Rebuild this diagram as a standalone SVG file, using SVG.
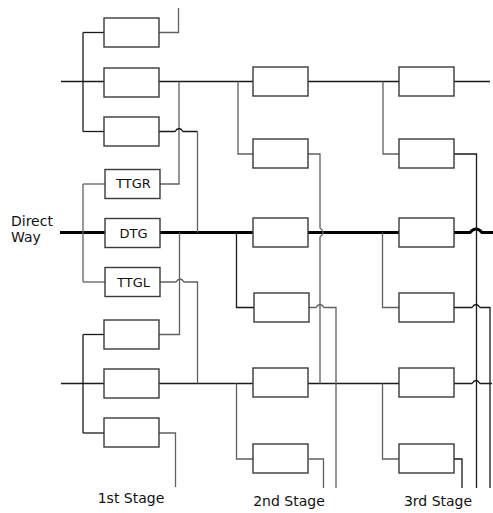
<svg xmlns="http://www.w3.org/2000/svg" width="493" height="513" viewBox="0 0 493 513">
<style>
.box{fill:#fff;stroke:#3a3a3a;stroke-width:1.4}
.k{fill:none;stroke:#1a1a1a;stroke-width:1.3}
.g{fill:none;stroke:#606060;stroke-width:1.3}
.thick{fill:none;stroke:#000;stroke-width:3}
text{font-family:"DejaVu Sans","Verdana",sans-serif;font-size:14px;fill:#111}
.bt{font-size:13px}
.c{text-anchor:middle}
</style>
<rect width="493" height="513" fill="#fff"/>
<g id="connectors">
<path class="thick" d="M60,232.5 H470 q6,-7 12,0 H493"/>
<path class="k" d="M61,81.5 H490"/>
<path class="k" d="M61,383.5 H472 q4,-6 8,0 H492"/>
<path class="k" d="M83,32.5 V131.5"/>
<path class="k" d="M83,32.5 H104"/>
<path class="k" d="M83,131.5 H104"/>
<path class="g" d="M159,32.5 H178.5 V8"/>
<path class="g" d="M179,81.5 V184 H160"/>
<path class="k" d="M159,131.5 H175 q4,-6 8,0 H197.5"/>
<path class="g" d="M197.5,131.5 V232.5"/>
<path class="g" d="M83,184 V282"/>
<path class="g" d="M83,184 H105"/>
<path class="g" d="M83,282 H105"/>
<path class="g" d="M160,282 H176 q4,-6 8,0 H197.5 V383.5"/>
<path class="g" d="M179.5,232.5 V334.5 H159"/>
<path class="k" d="M83,334.5 V433"/>
<path class="k" d="M83,334.5 H104"/>
<path class="k" d="M83,433 H104"/>
<path class="g" d="M159,433 H175.5 V487"/>
<path class="g" d="M238,81.5 V154 H253"/>
<path class="g" d="M308,154 H320 V228 q6,4.5 0,9 V383.5"/>
<path class="k" d="M236.5,232.5 V307.5 H254"/>
<path class="g" d="M309,307.5 H316 q4,-6 8,0 H336 V488"/>
<path class="g" d="M236.5,383.5 V459 H254"/>
<path class="g" d="M309,459 H323.5 V488"/>
<path class="g" d="M383,81.5 V154 H399"/>
<path class="k" d="M454,154 H476.5 V488"/>
<path class="g" d="M382.5,232.5 V307.5 H399"/>
<path class="k" d="M454,307.5 H472 q4,-6 8,0 H490 V488"/>
<path class="g" d="M382.5,383.5 V459 H399"/>
<path class="k" d="M454,459 H462 V488"/>
</g>
<g id="s1b1"><rect class="box" x="104" y="18" width="55" height="29"/></g>
<g id="s1b2"><rect class="box" x="104" y="68" width="55" height="29"/></g>
<g id="s1b3"><rect class="box" x="104" y="117" width="55" height="29"/></g>
<g id="ttgr"><rect class="box" x="105" y="169.5" width="55" height="29"/><text class="c bt" x="133.5" y="188">TTGR</text></g>
<g id="dtg"><rect class="box" x="105" y="218.5" width="55" height="29"/><text class="c bt" x="133.5" y="237.5">DTG</text></g>
<g id="ttgl"><rect class="box" x="105" y="267.5" width="55" height="29"/><text class="c bt" x="133.5" y="286.5">TTGL</text></g>
<g id="s1b7"><rect class="box" x="104" y="320" width="55" height="29"/></g>
<g id="s1b8"><rect class="box" x="104" y="369" width="55" height="29"/></g>
<g id="s1b9"><rect class="box" x="104" y="418" width="55" height="29"/></g>
<g id="s2b1"><rect class="box" x="253" y="67" width="55" height="29"/></g>
<g id="s2b2"><rect class="box" x="253" y="139" width="55" height="29"/></g>
<g id="s2b3"><rect class="box" x="253" y="218" width="55" height="29"/></g>
<g id="s2b4"><rect class="box" x="254" y="293" width="55" height="29"/></g>
<g id="s2b5"><rect class="box" x="253" y="368" width="55" height="29"/></g>
<g id="s2b6"><rect class="box" x="253" y="444" width="55" height="29"/></g>
<g id="s3b1"><rect class="box" x="399" y="67" width="55" height="29"/></g>
<g id="s3b2"><rect class="box" x="399" y="139" width="55" height="29"/></g>
<g id="s3b3"><rect class="box" x="399" y="218" width="55" height="29"/></g>
<g id="s3b4"><rect class="box" x="399" y="293" width="55" height="29"/></g>
<g id="s3b5"><rect class="box" x="399" y="368" width="55" height="29"/></g>
<g id="s3b6"><rect class="box" x="399" y="444" width="55" height="29"/></g>
<g id="labels">
<text x="11" y="226">Direct</text>
<text x="11" y="242">Way</text>
<text class="c" x="131" y="503">1st Stage</text>
<text class="c" x="289" y="506">2nd Stage</text>
<text class="c" x="438" y="506">3rd Stage</text>
</g>
</svg>
